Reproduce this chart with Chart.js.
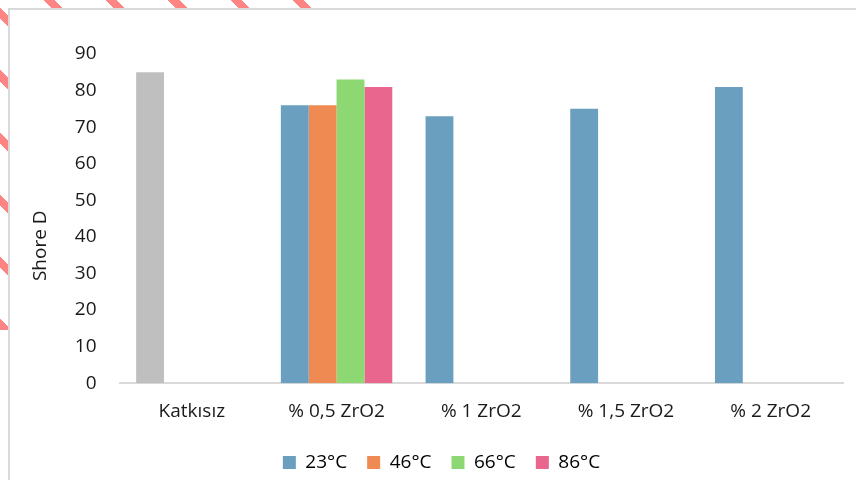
<!DOCTYPE html>
<html>
<head>
<meta charset="utf-8">
<script src="https://cdn.jsdelivr.net/npm/chart.js@4/dist/chart.umd.min.js"></script>
<style>
  html, body { margin: 0; padding: 0; }
  body {
    width: 856px; height: 480px; overflow: hidden; position: relative;
    background-color: #fff;
    background-image: repeating-linear-gradient(45deg, #ff8585 0 8px, transparent 8px 44px);
    background-size: 340px 330px;
    background-repeat: no-repeat;
  }
  #chartContainer {
    position: absolute; left: 8px; top: 8px; width: 848px; height: 472px;
    background: #fff; border-top: 2px solid #d9d9d9; border-left: 2px solid #d9d9d9;
  }
</style>
</head>
<body>
<div id="chartContainer"><canvas id="chart"></canvas></div>
<script>
const categorias = ['Katkısız', '% 0,5 ZrO2', '% 1 ZrO2', '% 1,5 ZrO2', '% 2 ZrO2'];
const temperaturas = ['23°C', '46°C', '66°C', '86°C'];
const valores23 = [85, 76, 73, 75, 81];
const valores46 = [null, 76, null, null, null];
const valores66 = [null, 83, null, null, null];
const valores86 = [null, 81, null, null, null];
const ticksY = [0, 10, 20, 30, 40, 50, 60, 70, 80, 90];

const cores = ['#6a9fc0', '#ef8a52', '#8dd873', '#e9678f'];
const corKatkisiz = '#bfbfbf';

Chart.defaults.font.family = '"Open Sans", "Noto Sans", sans-serif';
Chart.defaults.color = '#1a1a1a';

// desloca a legenda um pouco para a direita
const moverLegenda = {
  id: 'moverLegenda',
  afterLayout(chart) {
    chart.legend.left += 6;
    chart.legend.right += 6;
  }
};

const ctx = document.getElementById('chart').getContext('2d');
new Chart(ctx, {
  type: 'bar',
  data: {
    labels: categorias,
    datasets: [
      { label: temperaturas[0], data: valores23, backgroundColor: valores23.map((v, i) => i === 0 ? corKatkisiz : cores[0]) },
      { label: temperaturas[1], data: valores46, backgroundColor: cores[1] },
      { label: temperaturas[2], data: valores66, backgroundColor: cores[2] },
      { label: temperaturas[3], data: valores86, backgroundColor: cores[3] }
    ]
  },
  plugins: [moverLegenda],
  options: {
    responsive: true,
    maintainAspectRatio: false,
    animation: false,
    categoryPercentage: 0.77,
    barPercentage: 1.0,
    layout: { padding: { top: 44, right: 15, left: 18, bottom: 0 } },
    plugins: {
      tooltip: { enabled: false },
      legend: {
        position: 'bottom',
        labels: {
          font: { size: 19 },
          boxWidth: 13,
          boxHeight: 13,
          padding: 20,
          // a cor da legenda do 23°C tem que ser azul, não cinza
          generateLabels: function (chart) {
            return chart.data.datasets.map((ds, i) => ({
              text: ds.label,
              fillStyle: cores[i],
              strokeStyle: cores[i],
              lineWidth: 0,
              datasetIndex: i
            }));
          }
        }
      }
    },
    scales: {
      x: {
        grid: { display: false, drawTicks: false },
        border: { color: '#d9d9d9', width: 2 },
        ticks: { font: { size: 19 }, padding: 17 },
        afterFit: function (axis) {
          axis.height -= 7; // aproxima a legenda do eixo
        }
      },
      y: {
        min: 0,
        max: 90,
        afterBuildTicks: function (axis) {
          axis.ticks = ticksY.map(v => ({ value: v }));
        },
        grid: { display: false, drawTicks: false },
        border: { display: false },
        ticks: { font: { size: 19 }, padding: 23 },
        // espaços no fim empurram o título um pouco para baixo, como no original
        title: { display: true, text: 'Shore D           ', font: { size: 19 }, padding: { top: 1, bottom: 0 } }
      }
    }
  }
});
</script>
</body>
</html>
